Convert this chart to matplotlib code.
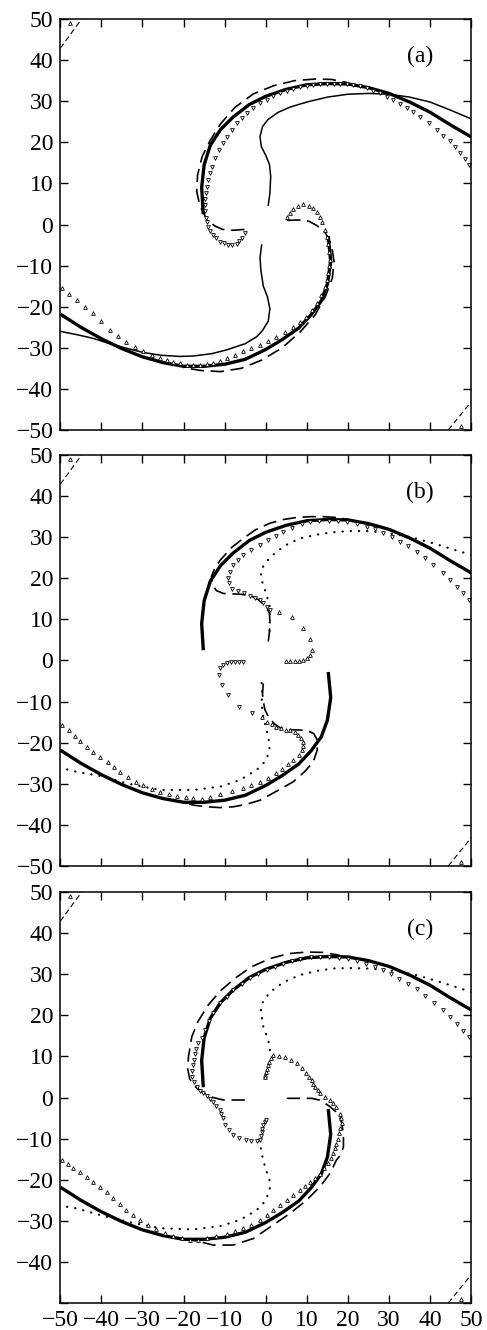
import numpy as np
import matplotlib
matplotlib.use('Agg')
import matplotlib.pyplot as plt

plt.rcParams['font.family'] = ['Liberation Serif', 'DejaVu Serif']

# ---- curves shared by all three frames ----
THICK_UP = [(50, 21.3), (45, 24.2), (40, 27.3), (35, 29.8), (30, 31.9), (25, 33.3),
            (20, 34.2), (15, 34.3), (10, 34.0), (5, 32.9), (0, 31.2), (-4, 29.2),
            (-8, 26.1), (-11, 23.1), (-13.5, 19.3), (-15, 14.5), (-15.6, 9.0), (-15.2, 2.5)]
THICK_DN = [(-50, -21.8), (-45, -25.0), (-40, -27.8), (-35, -30.2), (-30, -32.2), (-25, -33.6),
            (-20, -34.5), (-15, -34.5), (-10, -34.0), (-5, -32.8), (0, -30.4), (4, -28.0),
            (8, -25.2), (11, -22.0), (13.5, -18.6), (15, -14.5), (15.8, -9.0), (15.2, -2.8)]
CORNER_UL = [(-50, 42.9), (-44.8, 50)]
CORNER_LR = [(44.4, -50), (50, -43.1)]
CORNER_PTS = [(-47.6, 49.0), (47.6, -49.0)]

# ---- frame (a) ----
A_INNER_UP = [(50, 25.7), (45, 27.8), (40, 29.8), (35, 31.0), (30, 31.7), (25, 31.9), (20, 31.7),
              (15, 31.0), (10, 29.8), (6, 28.6), (3, 27.3), (0.5, 25.5), (-0.8, 23.8), (-1.4, 21.4),
              (-1.1, 19.0), (0, 16.8), (0.9, 14.6), (1.2, 11.7), (1.0, 7.6), (0.6, 4.7)]
A_INNER_DN = [(-1.0, -5.0), (-1.4, -8.0), (-1.2, -11.1), (-0.6, -15.0), (0.4, -17.6), (1.0, -20.5),
              (0.6, -23.5), (-0.8, -25.8), (-2.2, -27.3), (-5, -29.0), (-9.5, -30.5), (-13, -31.4),
              (-17.6, -32.0), (-21, -32.1), (-25.7, -31.8), (-30, -31.1), (-33.9, -30.1), (-38, -29.0),
              (-42, -27.7), (-46, -26.8), (-50, -26.0)]
A_DASH_UP = [(-5.2, -1.2), (-8, -1.4), (-10.5, -1.2), (-12.5, -0.3), (-14.5, 1.5), (-16, 4.5),
             (-16.8, 8), (-16.6, 12), (-15.5, 16.5), (-13.5, 20.5), (-11, 24.5), (-7.5, 28.5),
             (-3, 31.8), (2, 33.8), (7, 35.0), (12, 35.4), (16, 35.3), (20, 34.5)]
A_DASH_DN = [(5.2, 1.0), (8, 1.1), (10.5, 0.8), (12.5, -0.3), (14.5, -2), (16, -5), (16.6, -9),
             (16.2, -13), (14.5, -17.5), (12, -22), (8.5, -26), (4, -30), (-1, -33), (-6, -35),
             (-11, -35.8), (-16, -35.5), (-20, -34.8)]
A_TRI_V = [(49.5, 14.5), (48.4, 15.9), (47.3, 17.3), (46.0, 18.8), (44.8, 20.2), (43.2, 21.6),
           (41.6, 23.0), (39.6, 24.6), (37.5, 26.2), (35.9, 27.3), (34.3, 28.3), (32.6, 29.3),
           (31.0, 30.3), (29.4, 31.1), (27.8, 31.9), (26.2, 32.5), (24.6, 33.1), (23.0, 33.6),
           (21.3, 34.0), (19.7, 34.1), (18.1, 34.2), (16.5, 34.2), (14.8, 34.2), (13.2, 34.1),
           (11.6, 34.0), (10.0, 33.7), (8.3, 33.4), (6.7, 33.0), (5.1, 32.6), (3.5, 32.0),
           (1.8, 31.3), (0.2, 30.4), (-1.4, 29.5), (-3.0, 28.3), (-4.6, 27.1), (-5.9, 25.9),
           (-7.1, 24.6), (-8.3, 23.0), (-9.5, 21.4), (-10.5, 19.8), (-11.5, 18.1), (-12.4, 16.1),
           (-13.2, 14.1), (-13.6, 12.5), (-14.0, 10.8), (-14.3, 9.2), (-14.5, 7.6), (-14.7, 6.2),
           (-14.8, 4.8), (-14.7, 3.2), (-14.5, 1.5), (-14.3, 0.5), (-14.0, -0.5), (-13.5, -1.5),
           (-12.8, -2.5), (-12.0, -3.4), (-11.1, -4.2), (-10.1, -4.6), (-9.1, -5.0), (-8.1, -4.9),
           (-7.1, -4.7), (-6.5, -4.1), (-5.9, -3.4), (-5.1, -2.1)]
A_TRI_A = [(-49.7, -15.5), (-47.9, -17.0), (-46.0, -18.4), (-44.0, -20.0), (-42.0, -21.6),
           (-40.0, -23.6), (-37.9, -25.7), (-35.9, -27.1), (-33.9, -28.5), (-31.8, -29.7),
           (-29.8, -30.9), (-27.7, -31.8), (-25.7, -32.6), (-24.1, -33.0), (-22.5, -33.4),
           (-20.8, -33.8), (-19.2, -34.2), (-17.6, -34.2), (-16.0, -34.2), (-14.4, -34.0),
           (-12.8, -33.8), (-11.1, -33.2), (-9.5, -32.6), (-7.5, -31.8), (-5.5, -30.9),
           (-3.5, -30.1), (-1.4, -29.3), (0.6, -28.3), (2.6, -27.3), (4.7, -26.1), (6.7, -24.9),
           (8.3, -23.7), (9.9, -22.4), (11.2, -20.8), (12.4, -19.2), (13.5, -17.2), (14.4, -15.1),
           (14.8, -13.5), (15.2, -11.9), (15.4, -10.2), (15.6, -8.6), (15.5, -6.7), (15.2, -4.8),
           (14.8, -3.0), (14.4, -1.3), (13.8, 0.5), (13.2, 1.8), (12.4, 3.0), (11.6, 4.0),
           (10.4, 4.6), (9.1, 4.9), (7.9, 4.5), (6.7, 3.7), (5.8, 2.8), (5.1, 1.9)]

# ---- frame (b) ----
B_INNER_UP = [(50, 25.7), (45, 27.2), (40.8, 28.5), (36.5, 29.7), (32.7, 30.5), (28.5, 31.1),
              (24.6, 31.5), (20.5, 31.5), (16.4, 31.2), (12.3, 30.6), (8.3, 29.7), (5.3, 28.3),
              (2.7, 26.5), (1.0, 25.0), (-0.2, 23.6), (-1.0, 22.2), (-1.2, 20.8), (-1.0, 19.5),
              (-0.6, 18.4), (0.2, 15.9), (0.9, 13.5), (1.0, 10.3), (0.9, 7.0), (0.6, 5.4)]
B_INNER_DN = [(-1.0, -5.5), (-0.9, -8.0), (-1.0, -10.8), (-0.6, -13.7), (0.2, -16.9), (0.9, -20.2),
              (0.9, -22.2), (-0.2, -24.6), (-2.2, -26.6), (-6.3, -29.1), (-11.1, -30.7),
              (-17.6, -31.5), (-25.7, -31.5), (-33.9, -29.9), (-40.3, -28.1), (-46, -27.1), (-50, -26.1)]
B_DASH_UP = [(0.6, 4.6), (0.9, 7), (1.0, 9.5), (0.9, 11.5), (0, 13.2), (-1.8, 14.8), (-3.8, 15.8),
             (-6, 16.1), (-8, 16.2), (-10.3, 16.3), (-12, 17), (-13.1, 18.5), (-13.2, 20.5),
             (-12.4, 22.5), (-11, 24.5), (-8.3, 27.5), (-5.5, 29.7), (-2.5, 31.8), (1, 33.4),
             (4.3, 34.3), (7.5, 34.8), (11, 35.0), (14, 35.0), (17.3, 34.8), (20, 34.3)]
B_DASH_DN = [(-0.6, -5.6), (-0.8, -8), (-0.6, -10), (-0.2, -12), (0.8, -14), (2.2, -15.5),
             (3.5, -16.4), (5.5, -16.8), (7.5, -16.9), (10, -17), (11.7, -17.8), (12.6, -19.5),
             (12.5, -21.8), (11.6, -24.6), (9.5, -27), (6.7, -29.5), (3.9, -31.1), (1, -32.7),
             (-1.4, -34), (-4.7, -35), (-7.9, -35.6), (-11.1, -35.8), (-14.4, -35.6), (-17.6, -35.2),
             (-20, -34.6)]
B_TRI_V = [(49.5, 14.7), (48.0, 16.3), (46.5, 17.8), (44.8, 19.6), (43.0, 21.3), (40.8, 23.3),
           (38.8, 25.0), (36.7, 26.4), (34.6, 27.8), (32.7, 28.9), (30.7, 30.0), (28.6, 31.0),
           (26.6, 31.9), (24.6, 32.6), (22.2, 33.3), (19.7, 33.8), (17.5, 34.0), (15.3, 34.0),
           (13.0, 34.0), (10.8, 33.8), (8.8, 33.2), (6.5, 32.3), (4.3, 31.3), (2.5, 30.4),
           (0.5, 29.3), (-1.4, 28.1), (-3.5, 26.9), (-5.5, 25.7), (-6.8, 24.5), (-7.9, 23.2),
           (-8.7, 21.6), (-9.1, 20.0), (-9.0, 18.8), (-8.2, 17.5), (-6.8, 16.9), (-5.3, 16.4),
           (-3.9, 15.8), (-2.6, 15.2), (-1.4, 14.6), (-0.6, 13.9), (0.2, 13.1), (1.0, 12.3),
           (-5.5, -0.3), (-6.5, -0.3), (-7.5, -0.3), (-8.5, -0.4), (-9.5, -0.6), (-10.5, -1.2),
           (-11.1, -1.9), (-11.5, -3.5), (-10.7, -6.0), (-9.1, -8.4), (-6.5, -11.2), (-3.3, -12.7)]
B_TRI_A = [(3.1, 11.9), (6.3, 10.5), (9.0, 7.8), (10.8, 5.2), (11.3, 2.5), (10.8, 1.3), (10.0, 0.5),
           (9.0, 0.1), (8.0, -0.1), (7.0, -0.2), (6.0, -0.2), (5.0, -0.2),
           (-1.0, -13.7), (0.2, -14.9), (1.4, -15.5), (2.6, -16.1), (3.8, -16.5), (5.0, -16.8),
           (5.9, -16.9), (7.0, -17.4), (7.9, -18.1), (8.6, -18.9), (9.0, -19.8), (9.0, -20.8),
           (8.7, -21.8), (8.0, -22.9), (6.7, -24.2), (5.5, -25.2), (4.0, -26.4), (2.6, -27.5),
           (0.6, -28.5), (-1.4, -29.5), (-3.5, -30.3), (-5.5, -31.1), (-8.3, -31.8), (-11.1, -32.4),
           (-13.5, -33.2), (-15.5, -33.6), (-17.6, -33.5), (-19.5, -33.3), (-21.5, -33.0),
           (-23.5, -32.6), (-25.7, -32.0), (-27.8, -31.3), (-29.8, -30.4), (-31.5, -29.5),
           (-33.5, -28.4), (-35.5, -27.2), (-37.0, -26.0), (-38.5, -24.8), (-40.3, -23.5),
           (-42.0, -22.2), (-43.5, -21.0), (-45.2, -19.5), (-46.5, -18.3), (-48.0, -17.0),
           (-49.7, -15.7)]

# ---- frame (c) ----
C_INNER_UP = [(50, 25.7), (45, 27.3), (40.8, 28.6), (36.5, 29.8), (32.7, 30.6), (28.5, 31.1),
              (24.6, 31.4), (20.5, 31.5), (16.4, 31.4), (12.3, 30.8), (8.3, 29.8), (5.3, 28.5),
              (2.7, 27.0), (1.0, 25.5), (-0.2, 24.1), (-1.0, 22.7), (-1.2, 21.3), (-0.9, 19.2),
              (-0.6, 17.2), (0, 15.6), (0.6, 14.0), (1.0, 11.6), (1.2, 10.3)]
C_INNER_DN = [(-1.8, -10.5), (-1.4, -11.1), (-1.0, -13.6), (-0.2, -16.8), (0.9, -20.1), (1.0, -22.5),
              (-0.2, -25.3), (-2.2, -27.4), (-6.3, -29.8), (-11.1, -31.3), (-17.6, -32.1),
              (-25.7, -31.8), (-33.9, -30.2), (-40.3, -28.6), (-46, -27.0), (-50, -26.3)]
C_DASH_UP = [(-5.1, -0.6), (-7.5, -0.6), (-10.3, -0.6), (-12.8, 0), (-15, 1), (-17, 2.5),
             (-18.5, 4.5), (-19, 7), (-18.8, 10), (-18, 14.8), (-16.5, 18.5), (-14, 22.5),
             (-11, 26), (-7.5, 29), (-3.5, 31.8), (1, 33.8), (5.5, 35), (10, 35.4), (14, 35.3),
             (18, 34.6)]
C_DASH_DN = [(5.1, -0.2), (8.7, -0.2), (11.2, -0.2), (13, -0.6), (14.4, -1.4), (15.6, -2.2),
             (17, -3.4), (18, -4.7), (18.5, -6.3), (18.9, -9), (18.9, -12), (18.2, -14),
             (17.2, -15.2), (15.6, -18.5), (13.2, -21.7), (9.9, -25), (5.9, -28.2), (1.8, -31),
             (-3, -34.3), (-7.9, -35.9), (-12.8, -35.9), (-16, -35.1), (-18.5, -34.6)]
C_TRI_V = [(49.5, 14.7), (48.0, 16.3), (46.5, 17.8), (44.8, 19.6), (43.0, 21.3), (41.0, 23.0),
           (38.8, 24.8), (36.7, 26.3), (34.5, 27.7), (32.5, 28.9), (30.5, 30.0), (28.5, 31.0),
           (26.5, 31.8), (24.5, 32.5), (22.3, 33.2), (20.0, 33.6), (17.8, 34.0), (15.5, 34.3),
           (13.3, 34.2), (11.0, 34.1), (8.3, 33.6), (6.3, 33.1), (4.3, 32.6), (2.2, 31.8),
           (0.2, 31.0), (-1.8, 30.0), (-3.8, 29.0), (-5.9, 27.6), (-7.9, 26.2), (-9.5, 24.5),
           (-11.1, 22.9), (-12.8, 20.5), (-13.8, 18.5), (-14.8, 16.5), (-15.6, 14.6), (-16.4, 13.2),
           (-16.9, 11.8), (-17.2, 10.7), (-17.5, 9.2), (-17.6, 7.9), (-17.9, 6.5), (-18.0, 5.0),
           (-17.5, 3.8), (-16.8, 2.6), (-16.0, 1.7), (-15.2, 1.0), (-14.4, 0.3), (-13.6, -0.4),
           (-12.8, -1.2), (-12.0, -2.1), (-11.2, -3.0), (-10.8, -4.0), (-10.3, -5.1), (-9.9, -6.7),
           (-8.9, -7.9), (-7.9, -9.1), (-6.4, -9.9), (-4.8, -10.3), (-3.5, -10.5), (-2.2, -10.7),
           (-1.5, -10.3), (-1.2, -9.4), (-1.0, -8.5), (-0.8, -7.6), (-0.6, -6.7), (-0.3, -6.0),
           (0.0, -5.5)]
C_TRI_A = [(-49.7, -15.2), (-48.2, -16.2), (-46.8, -17.2), (-45.2, -18.2), (-43.6, -19.3),
           (-42.0, -20.5), (-40.3, -21.7), (-38.7, -23.1), (-37.1, -24.5), (-35.5, -26.0),
           (-33.9, -27.4), (-32.2, -28.6), (-30.6, -29.8), (-28.6, -31.0), (-26.6, -32.1),
           (-24.5, -33.0), (-22.5, -33.7), (-20.5, -34.2), (-18.5, -34.7), (-16.4, -34.6),
           (-14.4, -34.3), (-12.0, -33.8), (-9.5, -33.2), (-7.5, -32.6), (-5.5, -31.8),
           (-3.5, -30.9), (-1.4, -29.8), (0.2, -28.6), (1.8, -27.4), (3.5, -26.2), (5.1, -25.0),
           (6.7, -23.8), (8.3, -22.5), (9.5, -21.5), (10.7, -20.5), (12.0, -19.5), (13.2, -18.5),
           (14.2, -17.2), (15.2, -16.0), (15.8, -14.8), (16.4, -13.6), (16.8, -12.4), (17.2, -11.2),
           (17.5, -10.0), (17.8, -8.7), (18.0, -7.5), (18.5, -6.3), (18.3, -5.0), (18.0, -3.9),
           (17.2, -2.2), (16.4, -1.4), (15.6, -0.6), (14.4, 0.2), (13.2, 1.0), (12.6, 1.8),
           (12.0, 2.6), (11.6, 3.4), (11.2, 4.3), (10.5, 5.1), (9.8, 6.0), (8.7, 7.3), (7.5, 8.5),
           (6.1, 9.2), (4.7, 9.9), (3.2, 10.1), (1.8, 10.3), (1.2, 9.5), (0.9, 8.6), (0.6, 7.8),
           (0.3, 7.0), (0.0, 6.2), (-0.2, 5.5), (-0.3, 4.9)]

TICKS = list(range(-50, 51, 10))


def xy(pts):
    a = np.array(pts, dtype=float)
    return a[:, 0], a[:, 1]


def fmt(v):
    return '\u2212%d' % -v if v < 0 else '%d' % v


def panel(ax, tag, inner, dashed, tri_v, tri_a, dotted):
    for arm in dashed:
        ax.plot(*xy(arm), color='k', lw=1.2, ls=(0, (8, 4)))
    if dotted:
        for arm in inner:
            ax.plot(*xy(arm), color='k', lw=1.6, ls=(0, (0.1, 3.6)),
                    dash_capstyle='round')
    else:
        for arm in inner:
            ax.plot(*xy(arm), color='k', lw=1.1)
    for arm in (THICK_UP, THICK_DN):
        ax.plot(*xy(arm), color='k', lw=2.4, solid_capstyle='butt')
    ax.plot(*xy(tri_v), ls='none', marker='v', ms=2.7, mfc='white', mec='k', mew=0.6)
    ax.plot(*xy(tri_a), ls='none', marker='^', ms=2.7, mfc='white', mec='k', mew=0.6)

    for c in (CORNER_UL, CORNER_LR):
        ax.plot(*xy(c), color='k', lw=0.8, ls=(0, (5, 3)))
    ax.plot(*xy(CORNER_PTS), ls='none', marker='^', ms=2.7, mfc='white', mec='k', mew=0.6)

    ax.text(37.5, 41, tag, fontsize=17, ha='center', va='center')
    ax.set_xlim(-50, 50)
    ax.set_ylim(-50, 50)
    ax.set_xticks(TICKS)
    ax.set_yticks(TICKS)
    ax.tick_params(direction='in', top=True, right=True, length=6, width=1,
                   labelsize=17, pad=5)
    for s in ax.spines.values():
        s.set_linewidth(1.1)


fig = plt.figure(figsize=(4.87, 13.3), dpi=100)
left, w, h = 0.1238, 0.8439, 0.3090
ax_a = fig.add_axes([left, 0.6767, w, h])
ax_b = fig.add_axes([left, 0.3489, w, h])
ax_c = fig.add_axes([left, 0.0203, w, h])

panel(ax_a, '(a)', [A_INNER_UP, A_INNER_DN], [A_DASH_UP, A_DASH_DN], A_TRI_V, A_TRI_A, False)
panel(ax_b, '(b)', [B_INNER_UP, B_INNER_DN], [B_DASH_UP, B_DASH_DN], B_TRI_V, B_TRI_A, True)
panel(ax_c, '(c)', [C_INNER_UP, C_INNER_DN], [C_DASH_UP, C_DASH_DN], C_TRI_V, C_TRI_A, True)

for ax in (ax_a, ax_b):
    ax.set_yticklabels([fmt(v) for v in TICKS])
    ax.tick_params(labelbottom=False)
ax_c.set_yticklabels(['' if v == -50 else fmt(v) for v in TICKS])
ax_c.set_xticklabels([fmt(v) for v in TICKS])

fig.savefig('out.png', dpi=100)
